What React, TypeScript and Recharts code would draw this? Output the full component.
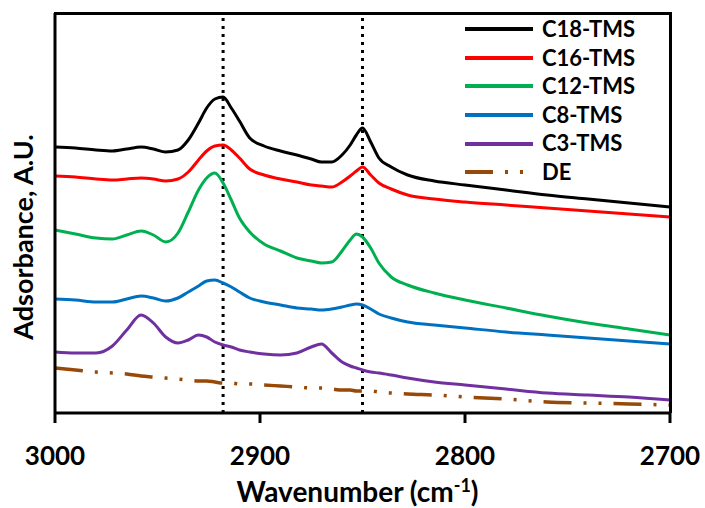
import { LineChart, Line, XAxis, YAxis, ReferenceLine, Legend } from "recharts";

const FONT = "Lato, 'Open Sans', sans-serif";

// Wavenumber grid (cm-1), shared by all spectra
const wavenumbers = [
  3000, 2990, 2980, 2972, 2965, 2958, 2952, 2946, 2940, 2935, 2930, 2926, 2922, 2918, 2914, 2910, 2905, 2898, 2890,
  2882, 2875, 2870, 2865, 2860, 2856, 2853, 2850, 2846, 2842, 2836, 2828, 2815, 2800, 2780, 2760, 2740, 2720, 2700,
];

// Stacked absorbance traces (arbitrary units, offset for clarity)
const c18 = [
  2.66, 2.65, 2.63, 2.62, 2.64, 2.66, 2.64, 2.61, 2.63, 2.73, 2.9, 3.05, 3.14, 3.16, 3.05, 2.92, 2.75, 2.67, 2.62,
  2.58, 2.54, 2.51, 2.51, 2.58, 2.68, 2.78, 2.85, 2.71, 2.55, 2.46, 2.38, 2.32, 2.28, 2.23, 2.18, 2.14, 2.1, 2.06,
];
const c16 = [
  2.37, 2.36, 2.34, 2.33, 2.34, 2.35, 2.34, 2.32, 2.34, 2.41, 2.53, 2.62, 2.67, 2.68, 2.63, 2.55, 2.44, 2.38, 2.34,
  2.31, 2.28, 2.27, 2.26, 2.31, 2.37, 2.42, 2.46, 2.38, 2.3, 2.24, 2.18, 2.14, 2.11, 2.08, 2.05, 2.02, 1.99, 1.96,
];
const c12 = [
  1.83, 1.79, 1.75, 1.74, 1.78, 1.82, 1.78, 1.71, 1.8, 2.01, 2.23, 2.35, 2.4, 2.3, 2.13, 1.95, 1.81, 1.69, 1.62,
  1.55, 1.52, 1.5, 1.51, 1.62, 1.73, 1.79, 1.76, 1.65, 1.5, 1.36, 1.28, 1.2, 1.13, 1.05, 0.97, 0.9, 0.84, 0.78,
];
const c8 = [
  1.14, 1.13, 1.11, 1.11, 1.14, 1.17, 1.15, 1.12, 1.15, 1.21, 1.27, 1.32, 1.33, 1.3, 1.26, 1.21, 1.15, 1.11, 1.08,
  1.05, 1.04, 1.03, 1.04, 1.06, 1.08, 1.09, 1.08, 1.04, 0.99, 0.95, 0.91, 0.88, 0.85, 0.81, 0.78, 0.75, 0.72, 0.69,
];
const c3 = [
  0.61, 0.6, 0.6, 0.67, 0.83, 0.98, 0.9, 0.76, 0.7, 0.73, 0.78, 0.76, 0.71, 0.68, 0.66, 0.63, 0.61, 0.59, 0.58,
  0.6, 0.66, 0.69, 0.6, 0.51, 0.47, 0.45, 0.43, 0.41, 0.4, 0.38, 0.35, 0.31, 0.28, 0.24, 0.2, 0.18, 0.16, 0.13,
];
const de = [
  0.45, 0.43, 0.41, 0.4, 0.39, 0.37, 0.36, 0.35, 0.34, 0.33, 0.32, 0.32, 0.31, 0.3, 0.3, 0.29, 0.29, 0.28, 0.27,
  0.26, 0.25, 0.25, 0.24, 0.23, 0.23, 0.22, 0.22, 0.22, 0.21, 0.2, 0.19, 0.18, 0.16, 0.14, 0.11, 0.1, 0.09, 0.08,
];

const xTicks = [3000, 2900, 2800, 2700];
const bandMarkers = [2918, 2850];

const seriesList = [
  { key: "c18", name: "C18-TMS", color: "#000000", values: c18 },
  { key: "c16", name: "C16-TMS", color: "#FF0000", values: c16 },
  { key: "c12", name: "C12-TMS", color: "#00B050", values: c12 },
  { key: "c8", name: "C8-TMS", color: "#0070C0", values: c8 },
  { key: "c3", name: "C3-TMS", color: "#7030A0", values: c3 },
  { key: "de", name: "DE", color: "#984807", values: de, dash: "28 12 3 12 3 12" },
];

const data = wavenumbers.map((wn, i) => {
  const row: Record<string, number> = { wn };
  seriesList.forEach((s) => {
    row[s.key] = s.values[i];
  });
  return row;
});

// chart geometry
const CHART_W = 705;
const CHART_H = 508;
const MARGIN = { top: 13, right: 35, left: 0, bottom: 0 };
const Y_AXIS_W = 55;
const X_AXIS_H = 95;

const renderLegend = () => (
  <div style={{ fontFamily: FONT, fontWeight: 700, fontSize: 22, color: "#000" }}>
    {seriesList.map((s) => (
      <div key={s.key} style={{ display: "flex", alignItems: "center", height: 28.6, lineHeight: "28.6px" }}>
        <svg width={70} height={8}>
          <line x1={1} y1={4} x2={69} y2={4} stroke={s.color} strokeWidth={4} strokeDasharray={s.dash} />
        </svg>
        <span style={{ marginLeft: 8 }}>{s.name}</span>
      </div>
    ))}
  </div>
);

export default function App() {
  const axisStroke = { stroke: "#000", strokeWidth: 3 };
  const plotLeft = MARGIN.left + Y_AXIS_W;
  const plotRight = CHART_W - MARGIN.right;
  const plotBottom = CHART_H - MARGIN.bottom - X_AXIS_H;

  return (
    <div style={{ position: "absolute", left: 0, top: 0, width: CHART_W, height: CHART_H, background: "#fff" }}>
      <LineChart width={CHART_W} height={CHART_H} data={data} margin={MARGIN}>
        <XAxis
          dataKey="wn"
          type="number"
          domain={[2700, 3000]}
          reversed
          ticks={xTicks}
          tickSize={10}
          tickMargin={24}
          height={X_AXIS_H}
          axisLine={axisStroke}
          tickLine={axisStroke}
          tick={{ fill: "#000", fontSize: 26, fontWeight: 700, fontFamily: FONT }}
          label={{
            content: (props: any) => {
              const vb = props.viewBox || { x: 55, width: 615 };
              return (
                <text
                  x={vb.x + vb.width / 2 - 5}
                  y={502}
                  textAnchor="middle"
                  fill="#000"
                  fontSize={28}
                  fontWeight={700}
                  fontFamily={FONT}
                >
                  Wavenumber (cm
                  <tspan dy={-10} fontSize={18}>
                    -1
                  </tspan>
                  <tspan dy={10}>)</tspan>
                </text>
              );
            },
          }}
        />
        <YAxis
          domain={[0, 4]}
          width={Y_AXIS_W}
          tick={false}
          tickLine={false}
          axisLine={axisStroke}
          label={{
            content: () => (
              <text
                x={33}
                y={237}
                transform="rotate(-90, 33, 237)"
                textAnchor="middle"
                fill="#000"
                fontSize={27}
                fontWeight={700}
                fontFamily={FONT}
              >
                Adsorbance, A.U.
              </text>
            ),
          }}
        />
        {bandMarkers.map((wn) => (
          <ReferenceLine key={wn} x={wn} stroke="#000" strokeWidth={3} strokeDasharray="3 5" />
        ))}
        {seriesList.map((s) => (
          <Line
            key={s.key}
            dataKey={s.key}
            name={s.name}
            type="monotone"
            stroke={s.color}
            strokeWidth={s.dash ? 3.5 : 3}
            strokeDasharray={s.dash}
            dot={false}
            isAnimationActive={false}
          />
        ))}
        <Legend
          content={renderLegend}
          layout="vertical"
          align="center"
          verticalAlign="middle"
          wrapperStyle={{ left: 464, top: 15, width: 200 }}
        />
      </LineChart>
      {/* top and right edges of the plot box */}
      <div
        style={{
          position: "absolute",
          left: plotLeft - 1.5,
          top: MARGIN.top - 1.5,
          width: plotRight - plotLeft + 3,
          height: plotBottom - MARGIN.top + 1.5,
          borderTop: "3px solid #000",
          borderRight: "3px solid #000",
          boxSizing: "border-box",
          pointerEvents: "none",
        }}
      />
    </div>
  );
}
